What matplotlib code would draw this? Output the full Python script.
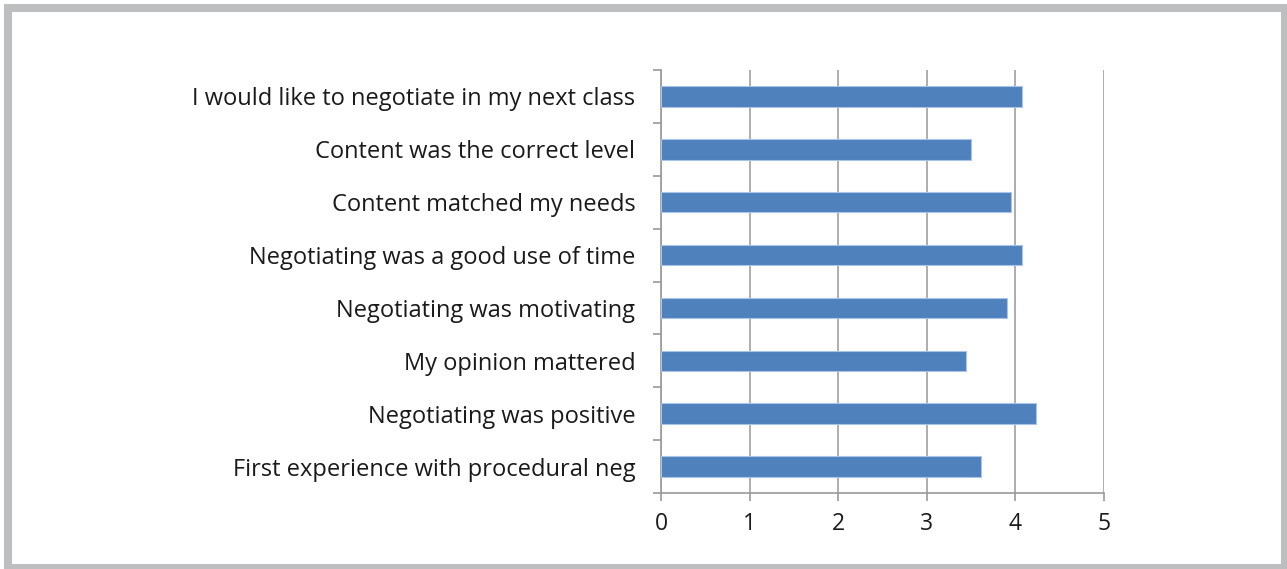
#!/usr/bin/env python3
"""Horizontal bar chart of negotiation survey ratings."""

import matplotlib
matplotlib.use("Agg")
import matplotlib.pyplot as plt
from matplotlib.patches import Rectangle

# survey statements, bottom to top as drawn
statements = [
    "First experience with procedural neg",
    "Negotiating was positive",
    "My opinion mattered",
    "Negotiating was motivating",
    "Negotiating was a good use of time",
    "Content matched my needs",
    "Content was the correct level",
    "I would like to negotiate in my next class",
]
mean_scores = [3.61, 4.23, 3.44, 3.90, 4.07, 3.95, 3.50, 4.07]
x_ticks = [0, 1, 2, 3, 4, 5]

W, H = 1287, 569
plt.rcParams["font.family"] = ["Open Sans", "DejaVu Sans"]

fig = plt.figure(figsize=(W / 100, H / 100), dpi=100)
fig.patch.set_facecolor("white")

# grey frame around the whole chart (partly cut off at right and bottom)
fig.patches.append(Rectangle((8 / W, 1 / H), (1285 - 8) / W, (561 - 1) / H,
                             transform=fig.transFigure, fill=False,
                             edgecolor="#bcbec0", linewidth=5.8))

ax = fig.add_axes([661 / W, (H - 493) / H, (1104 - 661) / W, (493 - 70) / H])

ypos = list(range(len(statements)))
ax.barh(ypos, mean_scores, height=0.39, color="#4f81bd",
        edgecolor="#a9c4e6", linewidth=0.8, zorder=3)

ax.set_xlim(0, 5)
ax.set_ylim(-0.5, len(statements) - 0.5)
ax.set_xticks(x_ticks)
ax.set_xticklabels([str(t) for t in x_ticks])
ax.set_yticks(ypos)
ax.set_yticklabels(statements)
ax.set_yticks([y - 0.5 for y in range(len(statements) + 1)], minor=True)

ax.grid(axis="x", color="#a0a0a0", linewidth=1.2, zorder=0)
for side in ("top", "right"):
    ax.spines[side].set_visible(False)
for side in ("left", "bottom"):
    ax.spines[side].set_color("#9a9a9a")
    ax.spines[side].set_linewidth(1.2)

ax.tick_params(axis="y", which="major", length=0, pad=18.5, labelsize=17,
               labelcolor="#1a1a1a")
ax.tick_params(axis="y", which="minor", length=6, width=1.2, color="#9a9a9a")
ax.tick_params(axis="x", which="major", length=6, width=1.2, color="#9a9a9a",
               pad=8, labelsize=16.5, labelcolor="#1a1a1a")

fig.savefig("out.png", dpi=100, facecolor="white")
